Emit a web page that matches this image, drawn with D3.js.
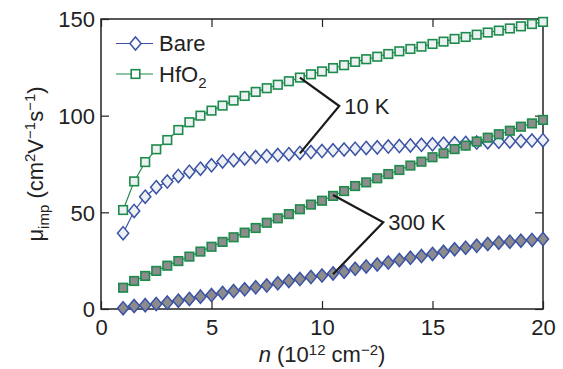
<!DOCTYPE html>
<html><head><meta charset="utf-8">
<script src="https://cdn.jsdelivr.net/npm/d3@7"></script>
<style>body{margin:0;background:#fff}text{font-family:"Liberation Sans",Arial,sans-serif;fill:#222}</style>
</head><body><svg id="c" width="563" height="369"></svg>
<script>
const nVals = [1,1.5,2,2.5,3,3.5,4,4.5,5,5.5,6,6.5,7,7.5,8,8.5,9,9.5,10,10.5,11,11.5,12,12.5,13,13.5,14,14.5,15,15.5,16,16.5,17,17.5,18,18.5,19,19.5,20];
const hfo2_10K = [51.2,66,76,82.6,87.4,92.6,96.6,100,102.6,105.2,107.8,110.2,112.3,114.2,116,117.8,119.7,121.4,122.9,124.6,126.1,127.8,129.2,130.5,131.9,133.3,134.5,135.7,137.1,138.3,139.7,140.7,141.9,143,144,145.1,146.2,147.4,148.5];
const bare_10K = [39.2,50.7,58.1,63,65.9,68.8,71,72.6,74.3,76.3,77,77.9,78.6,79.1,79.6,80.1,80.7,81.2,81.7,82.1,82.5,82.9,83.3,83.6,84,84.3,84.6,84.9,85.2,85.5,85.7,85.9,86.1,86.3,86.5,86.7,86.9,87.1,87.3];
const hfo2_300K = [11,14.5,17.1,19.7,22.4,24.8,27.1,29.7,32.2,34.7,37.1,39.5,41.9,44.6,46.9,49.1,51.6,54,56,58.5,61,63.6,65.5,67.6,69.8,71.9,74.2,76.2,78.5,80.5,82.7,84.5,86.6,88.6,90.4,92.2,94.3,96,97.8];
const bare_300K = [0.4,1.5,2,2.6,3.3,4.3,5.2,6.4,7.2,8.3,9.3,10.2,11.2,12.1,13.3,14.5,15.5,16.5,17.3,18.4,19.3,20.8,22,23,24,25.3,26.5,27.4,28.5,29.6,30.9,31.7,32.7,33.6,34.3,34.8,35.3,35.7,36.2];
const xTicks = [0,5,10,15,20];
const yTicks = [0,50,100,150];
const legendLabels = ["Bare","HfO2"];
// annotation leader lines in data coords: [start, vertex, end]
const ann10K = [[9,119.7],[10.78,105],[9,80.5]];
const ann300K = [[10.5,59],[12.77,44.9],[10.5,18]];
const annLabels = ["10 K","300 K"];

const BLUE="#3a52a6", GREEN="#1d8b4b", GRAY="#8c8c8c", LIGHT="#eef1f3";
const FS = "22px", FSS = "15px";
const svg = d3.select("#c");
const x = d3.scaleLinear().domain([0,20]).range([101,543]);
const y = d3.scaleLinear().domain([0,150]).range([309,19]);

function series(vals, color, fill, shape){
  const pts = nVals.map((n,i)=>[n, vals[i]]);
  const g = svg.append("g");
  g.append("path").datum(pts)
    .attr("d", d3.line().x(d=>x(d[0])).y(d=>y(d[1])))
    .attr("fill","none").attr("stroke",color).attr("stroke-width",1.2);
  drawMarkers(g, pts.map(p=>[x(p[0]),y(p[1])]), color, fill, shape);
}
function drawMarkers(g, pts, color, fill, shape){
  if(shape==="diamond"){
    g.selectAll("path.m").data(pts).join("path").attr("class","m")
      .attr("d", d=>`M${d[0]},${d[1]-6.6}L${d[0]+5.6},${d[1]}L${d[0]},${d[1]+6.6}L${d[0]-5.6},${d[1]}Z`)
      .attr("fill",fill).attr("stroke",color).attr("stroke-width",1.5);
  } else {
    g.selectAll("rect.m").data(pts).join("rect").attr("class","m")
      .attr("x",d=>d[0]-4.3).attr("y",d=>d[1]-4.3).attr("width",8.6).attr("height",8.6)
      .attr("fill",fill).attr("stroke",color).attr("stroke-width",1.6);
  }
}

// frame & ticks
const frame = svg.append("g");
frame.append("rect").attr("x",x(0)).attr("y",y(150)).attr("width",x(20)-x(0)).attr("height",y(0)-y(150))
  .attr("fill","none").attr("stroke","#222").attr("stroke-width",1.5);
const tl = 8;
const axB = d3.axisBottom(x).tickValues(xTicks).tickSizeInner(-tl).tickSizeOuter(0).tickPadding(11);
const gB = svg.append("g").attr("transform",`translate(0,${y(0)})`).call(axB);
const axT = d3.axisTop(x).tickValues(xTicks).tickSizeInner(-tl).tickSizeOuter(0).tickFormat("");
const gT = svg.append("g").attr("transform",`translate(0,${y(150)})`).call(axT);
const axL = d3.axisLeft(y).tickValues(yTicks).tickSizeInner(-tl).tickSizeOuter(0).tickPadding(6);
const gL = svg.append("g").attr("transform",`translate(${x(0)},0)`).call(axL);
const axR = d3.axisRight(y).tickValues(yTicks).tickSizeInner(-tl).tickSizeOuter(0).tickFormat("");
const gR = svg.append("g").attr("transform",`translate(${x(20)},0)`).call(axR);
[gB,gT,gL,gR].forEach(g=>{
  g.select(".domain").remove();
  g.selectAll(".tick line").attr("stroke","#222").attr("stroke-width",1.2);
  g.selectAll("text").style("font-size",FS).attr("fill","#222");
});
gB.selectAll("text").attr("dy","0.68em");
gL.selectAll("text").attr("dy","0.36em").attr("x",-6);

// series: bare first, then HfO2 on top
series(bare_10K, BLUE, LIGHT, "diamond");
series(bare_300K, BLUE, GRAY, "diamond");
series(hfo2_300K, GREEN, GRAY, "square");
series(hfo2_10K, GREEN, LIGHT, "square");

// annotations
const annLine = d3.line().x(d=>x(d[0])).y(d=>y(d[1]));
[ann10K, ann300K].forEach((a,i)=>{
  svg.append("path").attr("d",annLine(a)).attr("fill","none").attr("stroke","#1a1a1a").attr("stroke-width",2.2);
  svg.append("text").attr("x",x(a[1][0])+5).attr("y",y(a[1][1])).attr("dy","0.36em")
    .style("font-size",FS).text(annLabels[i]);
});

// legend
const leg = svg.append("g");
[[BLUE,"diamond",43.5],[GREEN,"square",74]].forEach((L,i)=>{
  leg.append("line").attr("x1",116).attr("x2",153).attr("y1",L[2]).attr("y2",L[2]).attr("stroke",L[0]).attr("stroke-width",1.2);
  drawMarkers(leg.append("g"), [[135.5,L[2]]], L[0], "#fff", L[1]);
});
leg.append("text").attr("x",159).attr("y",51).style("font-size",FS).text(legendLabels[0]);
const t2 = leg.append("text").attr("x",159).attr("y",81.5).style("font-size",FS);
t2.append("tspan").text("HfO");
t2.append("tspan").attr("dy",6).style("font-size",FSS).text("2");

// axis labels
const xl = svg.append("text").attr("x",x(10)).attr("y",362).attr("text-anchor","middle").style("font-size",FS);
xl.append("tspan").style("font-style","italic").text("n");
xl.append("tspan").text(" (10");
xl.append("tspan").attr("dy",-7).style("font-size",FSS).text("12");
xl.append("tspan").attr("dy",7).text(" cm");
xl.append("tspan").attr("dy",-7).style("font-size",FSS).text("−2");
xl.append("tspan").attr("dy",7).text(")");

const yl = svg.append("text").attr("transform",`translate(43,${y(75)}) rotate(-90)`).attr("text-anchor","middle").style("font-size",FS);
yl.append("tspan").text("μ");
yl.append("tspan").attr("dy",6).style("font-size",FSS).text("imp");
yl.append("tspan").attr("dy",-6).text(" (cm");
yl.append("tspan").attr("dy",-8).style("font-size",FSS).text("2");
yl.append("tspan").attr("dy",8).text("V");
yl.append("tspan").attr("dy",-8).style("font-size",FSS).text("−1");
yl.append("tspan").attr("dy",8).text("s");
yl.append("tspan").attr("dy",-8).style("font-size",FSS).text("−1");
yl.append("tspan").attr("dy",8).text(")");
</script></body></html>
